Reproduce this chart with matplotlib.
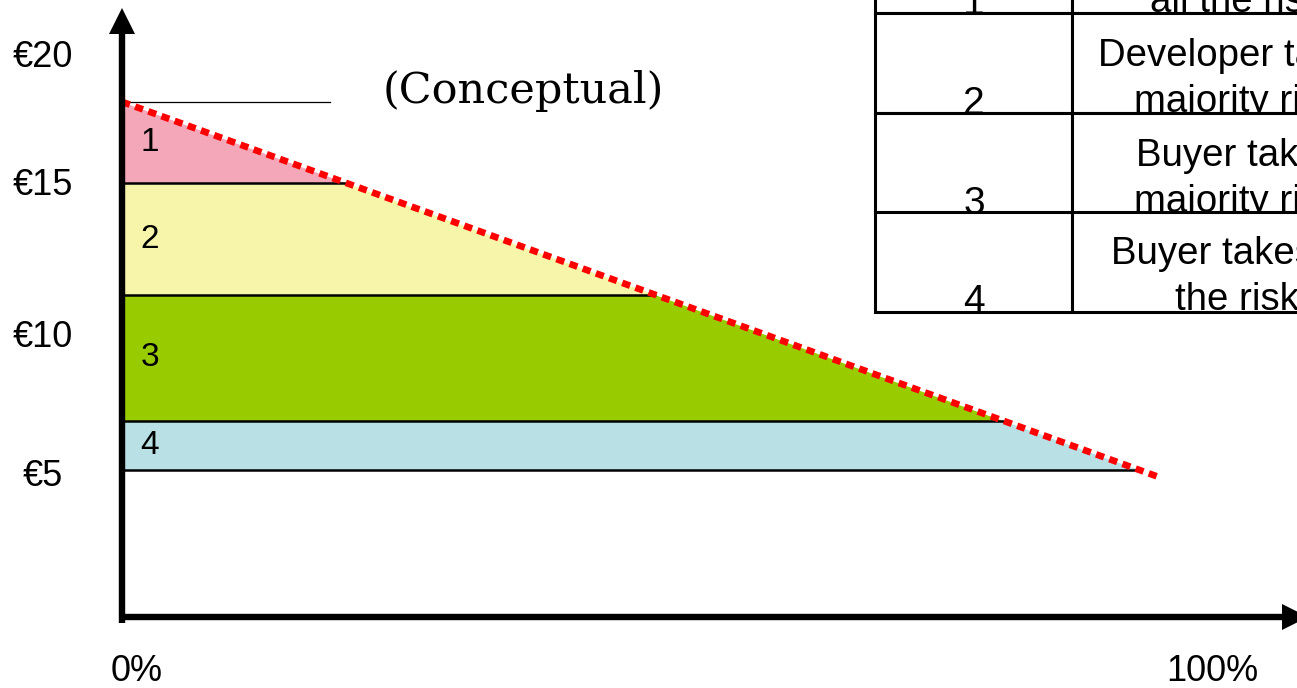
import numpy as np
import matplotlib.pyplot as plt
from matplotlib.patches import Rectangle
from matplotlib.transforms import Affine2D

W, H = 1297, 688

# price bands in euro, top to bottom
band_edges = [18.4, 15.5, 11.5, 7.0, 5.25]
band_colors = ["#F4A7B9", "#F6F5AA", "#99CC00", "#B9E0E5"]
band_labels = ["1", "2", "3", "4"]

# red dotted demand line: share sold (%) vs price (euro)
demand_x = [0, 95.4]
demand_y = [18.4, 4.96]

y_tick_labels = ["€20", "€15", "€10", "€5"]
y_tick_values = [20, 15.4, 10, 5]
x_tick_labels = ["0%", "100%"]
x_tick_values = [1.3, 100]

table_ids = ["1", "2", "3", "4"]
table_top = ["Developer takes", "Developer takes", "Buyer takes", "Buyer takes all"]
table_bottom = ["all the risk", "majority risk", "majority risk", "the risk"]

plt.rcParams["font.family"] = ["Liberation Sans", "DejaVu Sans"]

fig = plt.figure(figsize=(W / 100, H / 100), dpi=100)
ax = fig.add_axes([0, 0, 1, 1])
ax.set_xlim(-11.19, 107.8)
ax.set_ylim(-2.536, 22.036)
ax.axis("off")


def line_x(y):
    # x position of the demand line at price y
    return np.interp(y, demand_y[::-1], demand_x[::-1])


# coloured bands under the demand line
for i, col in enumerate(band_colors):
    hi, lo = band_edges[i], band_edges[i + 1]
    ys = np.array([lo, hi])
    ax.fill_betweenx(ys, 0, line_x(ys), color=col, lw=0, zorder=1)
    ax.text(1.7, (hi + lo) / 2, band_labels[i], fontsize=24, ha="left",
            va="center", zorder=5)

for e in band_edges[1:]:
    ax.plot([0, line_x(e)], [e, e], color="black", lw=1.8, zorder=2,
            solid_capstyle="butt")

# thin reference line at the top of the demand line
ax.plot([0, 19.1], [band_edges[0], band_edges[0]], color="black", lw=0.9,
        zorder=2)
ax.text(23.9, 18.8, "(Conceptual)", fontsize=31, family="DejaVu Serif",
        ha="left", va="center")

ax.plot(demand_x, demand_y, color="#FF0000", lw=4.8, zorder=4,
        dashes=(1.25, 0.85), dash_capstyle="butt")

# axes with arrow heads
ax.plot([0, 0], [-0.2, 21.0], color="black", lw=4.6, zorder=6,
        solid_capstyle="butt")
ax.plot([-0.2, 107.5], [0, 0], color="black", lw=4.6, zorder=6,
        solid_capstyle="butt")
ax.plot(0, 21.3, marker="^", ms=19, color="black", mew=0, zorder=7)
ax.plot(107.66, 0, marker=">", ms=19, color="black", mew=0, zorder=7)

for lab, v in zip(y_tick_labels, y_tick_values):
    ax.text(-7.3, v, lab, fontsize=26, ha="center", va="center")
for lab, v in zip(x_tick_labels, x_tick_values):
    ax.text(v, -1.95, lab, fontsize=26, ha="center", va="center")

# table in the top right corner, laid out in pixels from the top left
px = Affine2D().scale(1 / W, -1 / H).translate(0, 1) + fig.transFigure
row_tops = [-87, 13, 113, 212]
row_h = 99.5
col_x = [875, 1072, 1400]
for i in range(len(table_ids)):
    top = row_tops[i]
    bottom = top + row_h
    cells = []
    for c in range(2):
        r = Rectangle((col_x[c], top), col_x[c + 1] - col_x[c], row_h,
                      transform=px, facecolor="white", edgecolor="black",
                      lw=2.2, zorder=10)
        fig.add_artist(r)
        cells.append(r)
    t = fig.text(974, bottom + 1, table_ids[i], transform=px, fontsize=28,
                 ha="center", va="baseline", zorder=11)
    t.set_clip_path(cells[0])
    t1 = fig.text(1237, bottom - 47, table_top[i], transform=px, fontsize=27.6,
                  ha="center", va="baseline", zorder=11)
    t2 = fig.text(1237, bottom - 1, table_bottom[i], transform=px,
                  fontsize=27.6, ha="center", va="baseline", zorder=11)
    t1.set_clip_path(cells[1])
    t2.set_clip_path(cells[1])

fig.savefig("out.png", dpi=100)
